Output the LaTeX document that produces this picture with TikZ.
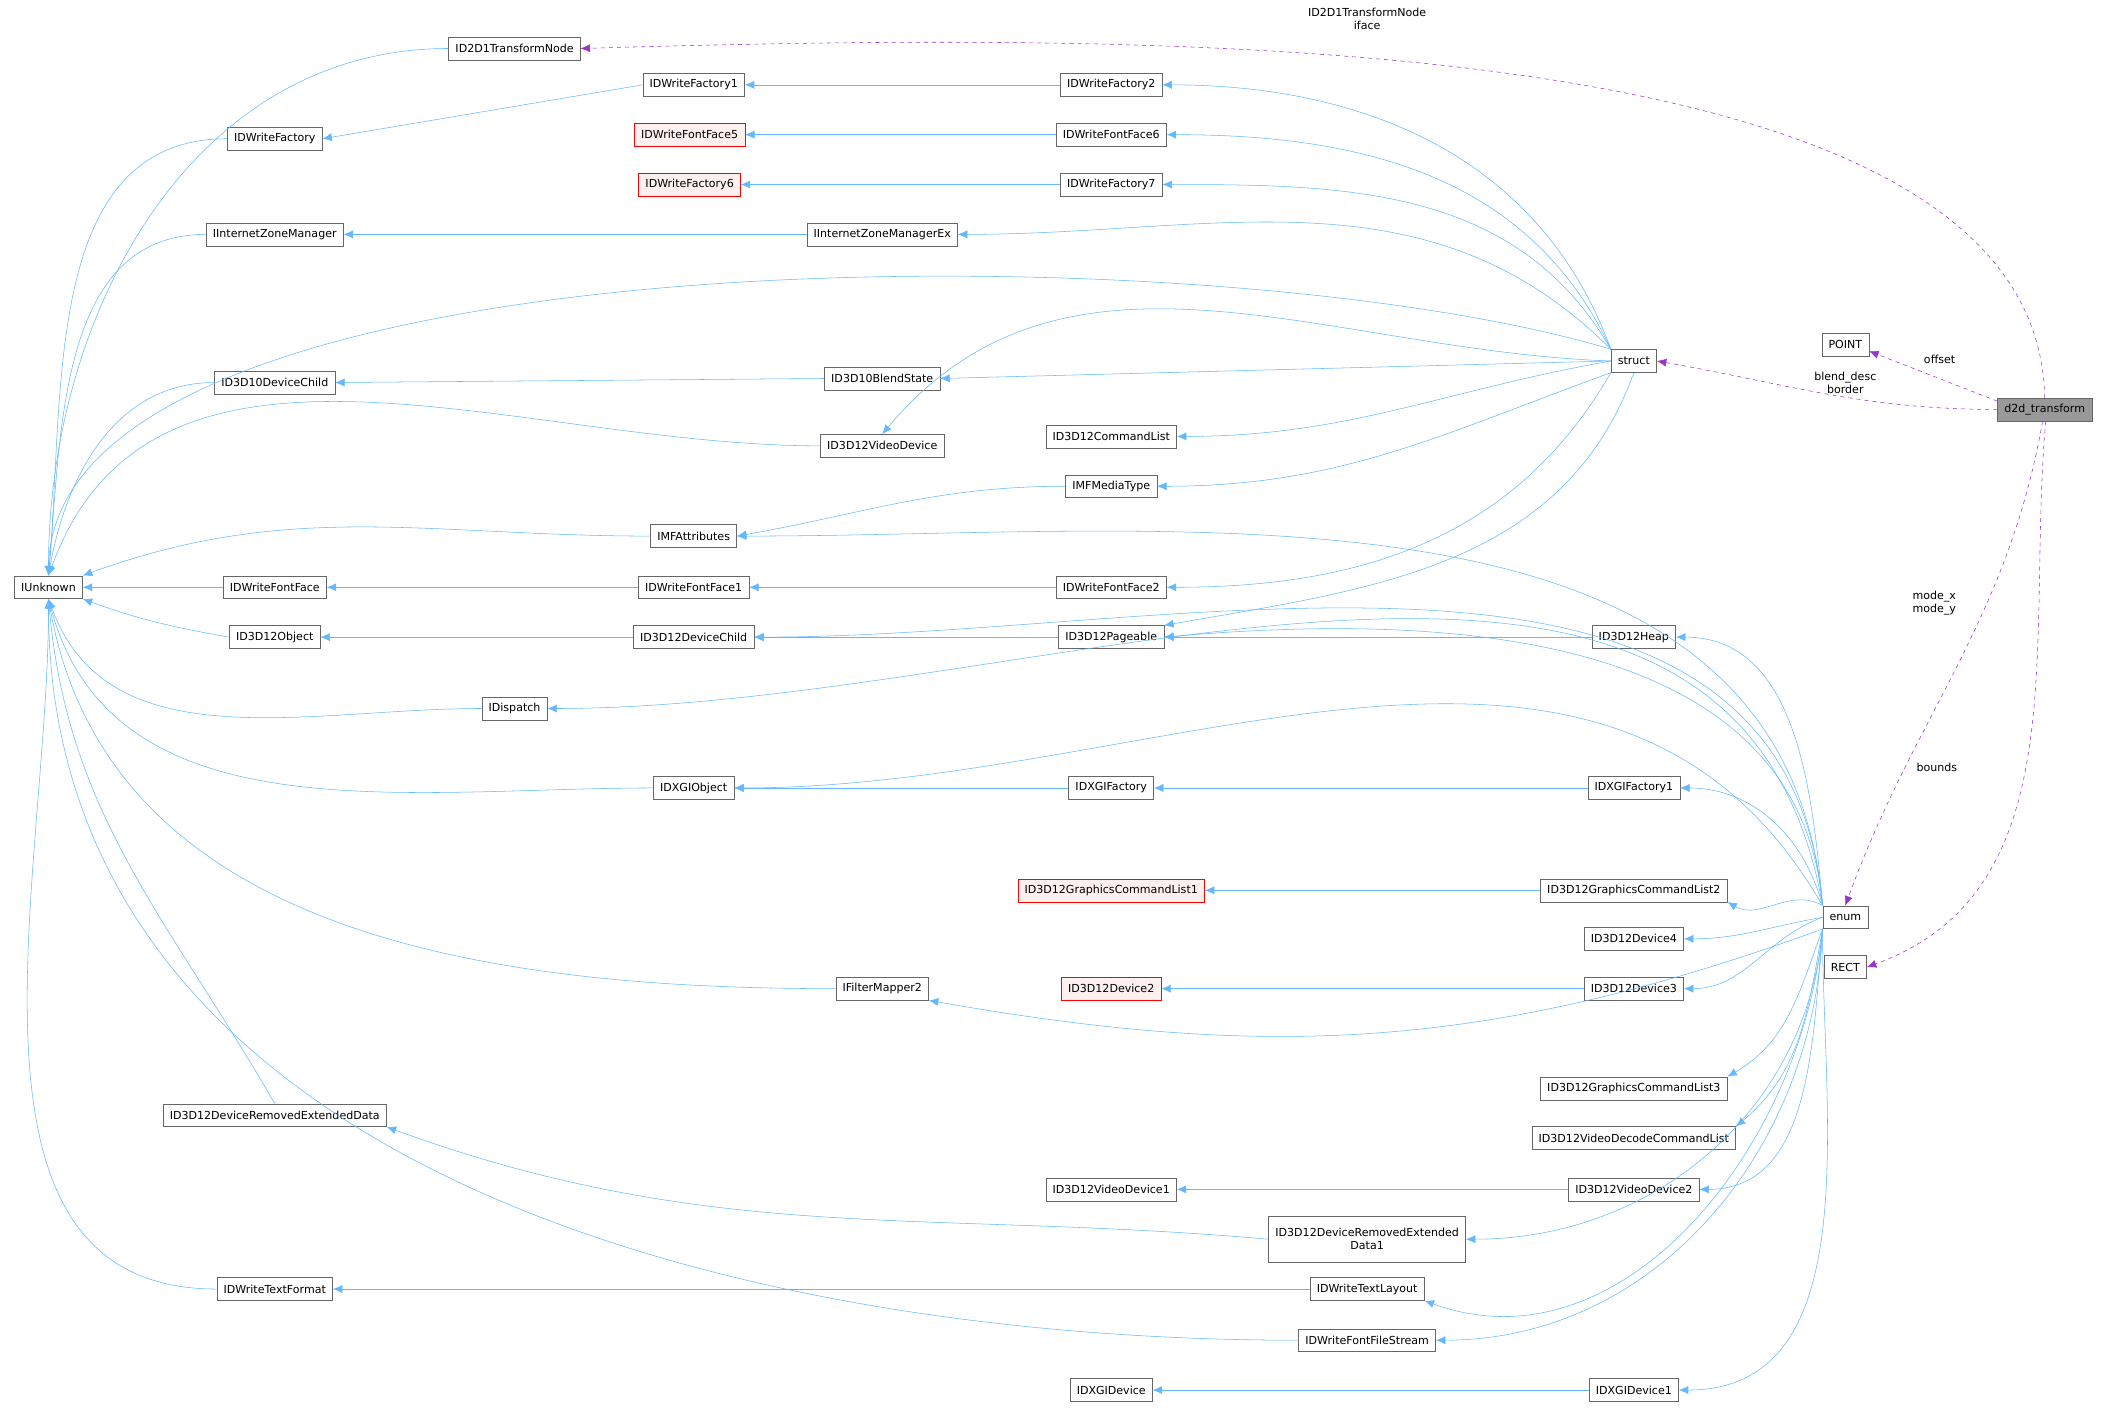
\documentclass[tikz,border=0pt]{standalone}
\usepackage{fontspec}
\setmainfont{DejaVu Sans}
\usetikzlibrary{arrows.meta}
\definecolor{edgeblue}{HTML}{63B8FF}
\definecolor{usepurple}{HTML}{9A32CD}
\definecolor{boxgray}{HTML}{666666}
\tikzset{
  cls/.style={draw=boxgray, fill=white, text=black, font=\fontsize{8.2}{9.5}\selectfont,
    inner xsep=5pt, inner ysep=0pt, minimum height=17pt},
  bad/.style={cls, draw=red, fill=red!6},
  main/.style={cls, fill=black!40},
  inh/.style={draw=edgeblue, -{Latex[length=7pt,width=6pt]}},
  usr/.style={draw=usepurple, dashed, -{Latex[length=7pt,width=6pt]}},
  lbl/.style={font=\fontsize{8.2}{9.5}\selectfont, align=center}
}
\begin{document}
\begin{tikzpicture}[x=1pt,y=1pt]
\useasboundingbox (0,0) rectangle (1568,-1046);
\draw
(36,-436) node[cls](unk){IUnknown}
(382,-36) node[cls](tnode){ID2D1TransformNode}
(515,-63) node[cls](wf1){IDWriteFactory1}
(825,-63) node[cls](wf2){IDWriteFactory2}
(204,-103) node[cls](wf){IDWriteFactory}
(512,-100) node[bad](wff5){IDWriteFontFace5}
(825,-100) node[cls](wff6){IDWriteFontFace6}
(512,-137) node[bad](wf6){IDWriteFactory6}
(825,-137) node[cls](wf7){IDWriteFactory7}
(204,-174) node[cls](izm){IInternetZoneManager}
(655,-174) node[cls](izmx){IInternetZoneManagerEx}
(1213,-268) node[cls](st){struct}
(1370,-256) node[cls](pt){POINT}
(1518,-304) node[main](dt){d2d\_transform}
(204,-284) node[cls](d10dc){ID3D10DeviceChild}
(655,-281) node[cls](d10bs){ID3D10BlendState}
(655,-331) node[cls](vd){ID3D12VideoDevice}
(825,-324) node[cls](cl){ID3D12CommandList}
(825,-361) node[cls](mft){IMFMediaType}
(515,-398) node[cls](mfa){IMFAttributes}
(204,-436) node[cls](wff){IDWriteFontFace}
(515,-436) node[cls](wff1){IDWriteFontFace1}
(825,-436) node[cls](wff2){IDWriteFontFace2}
(204,-473) node[cls](obj){ID3D12Object}
(515,-473) node[cls](dc){ID3D12DeviceChild}
(825,-473) node[cls](pg){ID3D12Pageable}
(1213,-473) node[cls](heap){ID3D12Heap}
(382,-526) node[cls](disp){IDispatch}
(515,-585) node[cls](xo){IDXGIObject}
(825,-585) node[cls](xf){IDXGIFactory}
(1213,-585) node[cls](xf1){IDXGIFactory1}
(825,-661) node[bad](gcl1){ID3D12GraphicsCommandList1}
(1213,-661) node[cls](gcl2){ID3D12GraphicsCommandList2}
(1370,-681) node[cls](en){enum}
(1213,-697) node[cls](dev4){ID3D12Device4}
(1370,-718) node[cls](rect){RECT}
(825,-734) node[bad](dev2){ID3D12Device2}
(1213,-734) node[cls](dev3){ID3D12Device3}
(655,-734) node[cls](fm2){IFilterMapper2}
(1213,-808) node[cls](gcl3){ID3D12GraphicsCommandList3}
(204,-828) node[cls](dred){ID3D12DeviceRemovedExtendedData}
(1213,-845) node[cls](vdcl){ID3D12VideoDecodeCommandList}
(825,-883) node[cls](vd1){ID3D12VideoDevice1}
(1213,-883) node[cls](vd2){ID3D12VideoDevice2}
(1015,-920) node[cls, align=center, minimum height=34pt](dred1){ID3D12DeviceRemovedExtended\\Data1}
(1015,-957) node[cls](wtl){IDWriteTextLayout}
(204,-957) node[cls](wtf){IDWriteTextFormat}
(1015,-995) node[cls](wffs){IDWriteFontFileStream}
(825,-1032) node[cls](xd){IDXGIDevice}
(1213,-1032) node[cls](xd1){IDXGIDevice1};

% inheritance, derived -> base
\draw[inh] (tnode.west) to[out=180,in=90] (unk.north);
\draw[inh] (wf.west) to[out=180,in=85] (unk.north);
\draw[inh] (izm.west) to[out=180,in=85] (unk.north);
\draw[inh] (st.north west) .. controls (900,-170) and (40,-170) .. (unk.north);
\draw[inh] (d10dc.west) to[out=180,in=80] (unk.north);
\draw[inh] (vd.west) to[out=180,in=70] (unk.north);
\draw[inh] (mfa.west) to[out=180,in=20] (unk.north east);
\draw[inh] (wff.west) -- (unk.east);
\draw[inh] (obj.west) to[out=170,in=-20] (unk.south east);
\draw[inh] (disp.west) to[out=180,in=-70] (unk.south);
\draw[inh] (xo.west) to[out=180,in=-75] (unk.south);
\draw[inh] (fm2.west) to[out=180,in=-80] (unk.south);
\draw[inh] (dred.north) to[out=120,in=-85] (unk.south);
\draw[inh] (wtf.west) to[out=180,in=-90] (unk.south);
\draw[inh] (wffs.west) to[out=180,in=-90] (unk.south);
\draw[inh] (wf1.west) -- (wf.east);
\draw[inh] (wf2.west) -- (wf1.east);
\draw[inh] (wff6.west) -- (wff5.east);
\draw[inh] (wf7.west) -- (wf6.east);
\draw[inh] (izmx.west) -- (izm.east);
\draw[inh] (d10bs.west) -- (d10dc.east);
\draw[inh] (mft.west) to[out=180,in=10] (mfa.east);
\draw[inh] (wff1.west) -- (wff.east);
\draw[inh] (wff2.west) -- (wff1.east);
\draw[inh] (dc.west) -- (obj.east);
\draw[inh] (pg.west) -- (dc.east);
\draw[inh] (heap.west) -- (pg.east);
\draw[inh] (xf.west) -- (xo.east);
\draw[inh] (xf1.west) -- (xf.east);
\draw[inh] (gcl2.west) -- (gcl1.east);
\draw[inh] (dev3.west) -- (dev2.east);
\draw[inh] (vd2.west) -- (vd1.east);
\draw[inh] (dred1.west) to[out=175,in=-20] (dred.south east);
\draw[inh] (wtl.west) -- (wtf.east);
\draw[inh] (xd1.west) -- (xd.east);
% struct
\draw[inh] (st.north west) to[out=110,in=0] (wf2.east);
\draw[inh] (st.north west) to[out=115,in=0] (wff6.east);
\draw[inh] (st.north west) to[out=120,in=0] (wf7.east);
\draw[inh] (st.north west) to[out=135,in=0] (izmx.east);
\draw[inh] (st.west) -- (d10bs.east);
\draw[inh] (st.west) to[out=178,in=50] (vd.north);
\draw[inh] (st.west) to[out=190,in=0] (cl.east);
\draw[inh] (st.south west) to[out=200,in=0] (mft.east);
\draw[inh] (st.south west) to[out=-120,in=0] (wff2.east);
\draw[inh] (st.south) to[out=-110,in=10] (pg.north east);
% enum
\draw[inh] (en.north west) to[out=95,in=0] (mfa.east);
\draw[inh] (en.north west) to[out=95,in=5] (pg.east);
\draw[inh] (en.north west) to[out=95,in=0] (heap.east);
\draw[inh] (en.north west) to[out=95,in=0] (dc.east);
\draw[inh] (en.north west) to[out=100,in=0] (disp.east);
\draw[inh] (en.north west) to[out=105,in=0] (xf1.east);
\draw[inh] (en.north west) to[out=120,in=0] (xo.east);
\draw[inh] (en.north west) to[out=150,in=-30] (gcl2.south east);
\draw[inh] (en.west) to[out=190,in=0] (dev4.east);
\draw[inh] (en.west) to[out=200,in=0] (dev3.east);
\draw[inh] (en.south west) to[out=200,in=-10] (fm2.south east);
\draw[inh] (en.south west) to[out=-110,in=30] (gcl3.north east);
\draw[inh] (en.south west) to[out=-100,in=40] (vdcl.north east);
\draw[inh] (en.south west) to[out=-95,in=0] (vd2.east);
\draw[inh] (en.south west) to[out=-95,in=0] (dred1.east);
\draw[inh] (en.south west) to[out=-95,in=-20] (wtl.south east);
\draw[inh] (en.south west) to[out=-92,in=0] (wffs.east);
\draw[inh] (en.south west) to[out=-90,in=0] (xd1.east);
% members of d2d_transform
\draw[usr] (dt.north) .. controls +(-5,280) and +(420,12) .. (tnode.east);
\draw[usr] (dt.170) -- (pt.-15);
\draw[usr] (dt.west) to[out=180,in=-10] (st.east);
\draw[usr] (dt.-100) to[out=-100,in=70] (en.north);
\draw[usr] (dt.-85) to[out=-95,in=20] (rect.east);
\node[lbl] (lIface) at (1015,-14) {ID2D1TransformNode\\iface};
\node[lbl] (lOffset) at (1440,-267) {offset};
\node[lbl] (lBlend) at (1370,-284) {blend\_desc\\border};
\node[lbl] (lMode) at (1436,-448) {mode\_x\\mode\_y};
\node[lbl] (lBounds) at (1438,-570) {bounds};
\end{tikzpicture}
\end{document}
